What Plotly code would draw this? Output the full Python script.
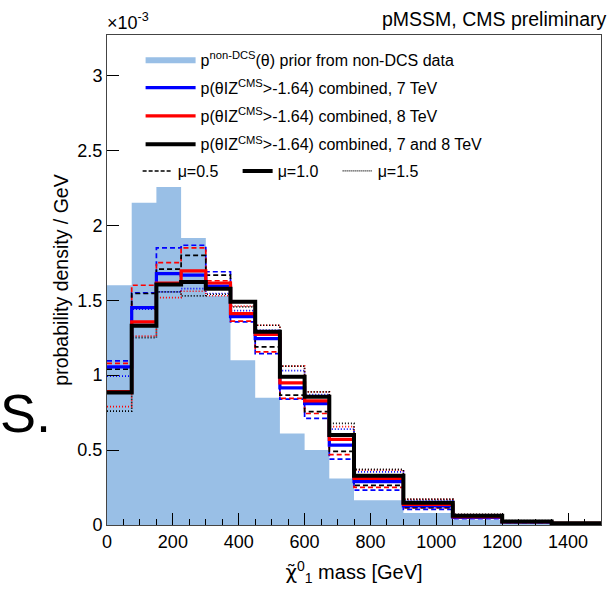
import plotly.graph_objects as go

# bin edges [GeV]
edges = [0, 75, 150, 225, 300, 375, 450, 525, 600, 675, 750, 900, 1050, 1200, 1350, 1500]

# values in units of 1e-3 / GeV
prior = [1.60, 2.15, 2.255, 1.915, 1.53, 1.10, 0.85, 0.61, 0.50, 0.31, 0.165, 0.08, 0.035, 0.012, 0.004]

blue_solid = [1.055, 1.45, 1.678, 1.667, 1.595, 1.39, 1.244, 0.915, 0.81, 0.533, 0.289, 0.127, 0.052, 0.020, 0.010]
red_solid = [0.89, 1.355, 1.615, 1.696, 1.615, 1.41, 1.272, 0.949, 0.829, 0.571, 0.311, 0.138, 0.056, 0.022, 0.011]
black_solid = [0.885, 1.33, 1.605, 1.622, 1.577, 1.49, 1.289, 0.99, 0.856, 0.60, 0.329, 0.149, 0.062, 0.024, 0.012]

blue_dash = [1.095, 1.55, 1.849, 1.867, 1.69, 1.355, 1.144, 0.84, 0.711, 0.44, 0.233, 0.104, 0.042, 0.016, 0.008]
red_dash = [1.078, 1.60, 1.751, 1.849, 1.63, 1.36, 1.155, 0.845, 0.744, 0.469, 0.251, 0.116, 0.046, 0.018, 0.009]
black_dash = [1.04, 1.545, 1.707, 1.80, 1.667, 1.40, 1.189, 0.867, 0.756, 0.492, 0.264, 0.116, 0.048, 0.019, 0.009]

blue_dot = [0.993, 1.44, 1.556, 1.578, 1.545, 1.43, 1.30, 1.03, 0.87, 0.64, 0.355, 0.165, 0.066, 0.026, 0.013]
red_dot = [0.79, 1.26, 1.518, 1.56, 1.53, 1.46, 1.333, 1.06, 0.889, 0.656, 0.366, 0.172, 0.070, 0.028, 0.014]
black_dot = [0.76, 1.25, 1.556, 1.529, 1.54, 1.455, 1.333, 1.06, 0.889, 0.678, 0.371, 0.173, 0.071, 0.029, 0.014]

y_ticks = [0, 0.5, 1, 1.5, 2, 2.5, 3]
y_ticklabels = ["0", "0.5", "1", "1.5", "2", "2.5", "3"]
x_ticks = [0, 200, 400, 600, 800, 1000, 1200, 1400]

FONT = "Liberation Sans, Arial, Helvetica, sans-serif"
FILL = "#99BFE6"


def steps(vals):
    return vals + [vals[-1]]


fig = go.Figure()

fig.add_trace(go.Scatter(
    x=edges, y=steps(prior), mode="lines", line=dict(shape="hv", width=0, color=FILL),
    fill="tozeroy", fillcolor=FILL,
    name="p<sup>non-DCS</sup>(θ) prior from non-DCS data",
    legend="legend", legendgroup="g0", legendrank=1))

series_dash = [(blue_dash, "#0000FF"), (red_dash, "#FF0000"), (black_dash, "#000000")]
series_dot = [(blue_dot, "#0000FF"), (red_dot, "#FF0000"), (black_dot, "#000000")]
for vals, col in series_dot:
    fig.add_trace(go.Scatter(x=edges, y=steps(vals), mode="lines",
                             line=dict(shape="hv", width=1.7, color=col, dash="1px,2px"),
                             showlegend=False))
for vals, col in series_dash:
    fig.add_trace(go.Scatter(x=edges, y=steps(vals), mode="lines",
                             line=dict(shape="hv", width=1.7, color=col, dash="5px,3px"),
                             showlegend=False))

solid_specs = [
    (blue_solid, "#0000FF", 3.2, "p(θIZ<sup>CMS</sup>>-1.64) combined, 7 TeV", 2),
    (red_solid, "#FF0000", 3.2, "p(θIZ<sup>CMS</sup>>-1.64) combined, 8 TeV", 3),
    (black_solid, "#000000", 4, "p(θIZ<sup>CMS</sup>>-1.64) combined, 7 and 8 TeV", 4),
]
for vals, col, w, name, rank in solid_specs:
    fig.add_trace(go.Scatter(x=edges, y=steps(vals), mode="lines",
                             line=dict(shape="hv", width=w, color=col),
                             name=name, legend="legend", legendgroup="g%d" % rank,
                             legendrank=rank))

# mu legend entries
mu_specs = [("μ=0.5", "4px,2px", 1.5), ("μ=1.0", "solid", 4), ("μ=1.5", "1px,1px", 1.2)]
for name, dash, w in mu_specs:
    fig.add_trace(go.Scatter(x=[None], y=[None], mode="lines",
                             line=dict(color="#000000", dash=dash, width=w),
                             name=name, legend="legend2"))

fig.update_layout(
    width=614, height=591,
    margin=dict(l=107, r=13, t=35, b=66),
    paper_bgcolor="white", plot_bgcolor="white",
    font=dict(family=FONT, size=18, color="black"),
    showlegend=True,
    legend=dict(x=0.068, y=0.985, xanchor="left", yanchor="top",
                bgcolor="rgba(0,0,0,0)", font=dict(size=16, family=FONT),
                tracegroupgap=4.5, itemwidth=50, traceorder="grouped"),
    legend2=dict(x=0.062, y=0.757, xanchor="left", yanchor="top", orientation="h",
                 bgcolor="rgba(0,0,0,0)", font=dict(size=16, family=FONT),
                 itemwidth=30, entrywidth=55, entrywidthmode="pixels"),
    xaxis=dict(range=[0, 1500], tickvals=x_ticks, ticks="inside", ticklen=12,
               tickwidth=1, tickcolor="black", showgrid=False, zeroline=False,
               showline=True, linecolor="#444444", linewidth=1, mirror=True,
               minor=dict(dtick=50, tick0=0, ticks="inside", ticklen=6, tickcolor="black", showgrid=False),
               tickfont=dict(size=18), layer="above traces",
               title=dict(text="<span style=\"font-family:'DejaVu Sans'\">χ\u0303</span><sup>0</sup><sub>1</sub> mass [GeV]",
                          font=dict(size=20), standoff=14)),
    yaxis=dict(range=[0, 3.27], tickvals=y_ticks, ticktext=y_ticklabels, ticks="inside",
               ticklen=12, tickwidth=1, tickcolor="black", showgrid=False, zeroline=False,
               showline=True, linecolor="#444444", linewidth=1, mirror=True,
               tickfont=dict(size=18), layer="above traces",
               title=dict(text="probability density / GeV", font=dict(size=19.5), standoff=3)),
    annotations=[
        dict(text="pMSSM, CMS preliminary", xref="paper", yref="paper", x=1.0, y=1.0,
             xanchor="right", yanchor="bottom", xshift=8, yshift=3, showarrow=False,
             font=dict(size=19.5)),
        dict(text="×10<sup>-3</sup>", xref="paper", yref="paper", x=0.0, y=1.0,
             xanchor="left", yanchor="bottom", xshift=-2, showarrow=False, font=dict(size=18)),
        dict(text="S.", xref="paper", yref="paper", x=-0.1154, y=0.2286,
             xanchor="right", yanchor="middle", xshift=3, showarrow=False, font=dict(size=54)),
    ],
)

fig.write_html("out.html", config={"displayModeBar": False},
               post_script="document.body.style.margin='0px';")
